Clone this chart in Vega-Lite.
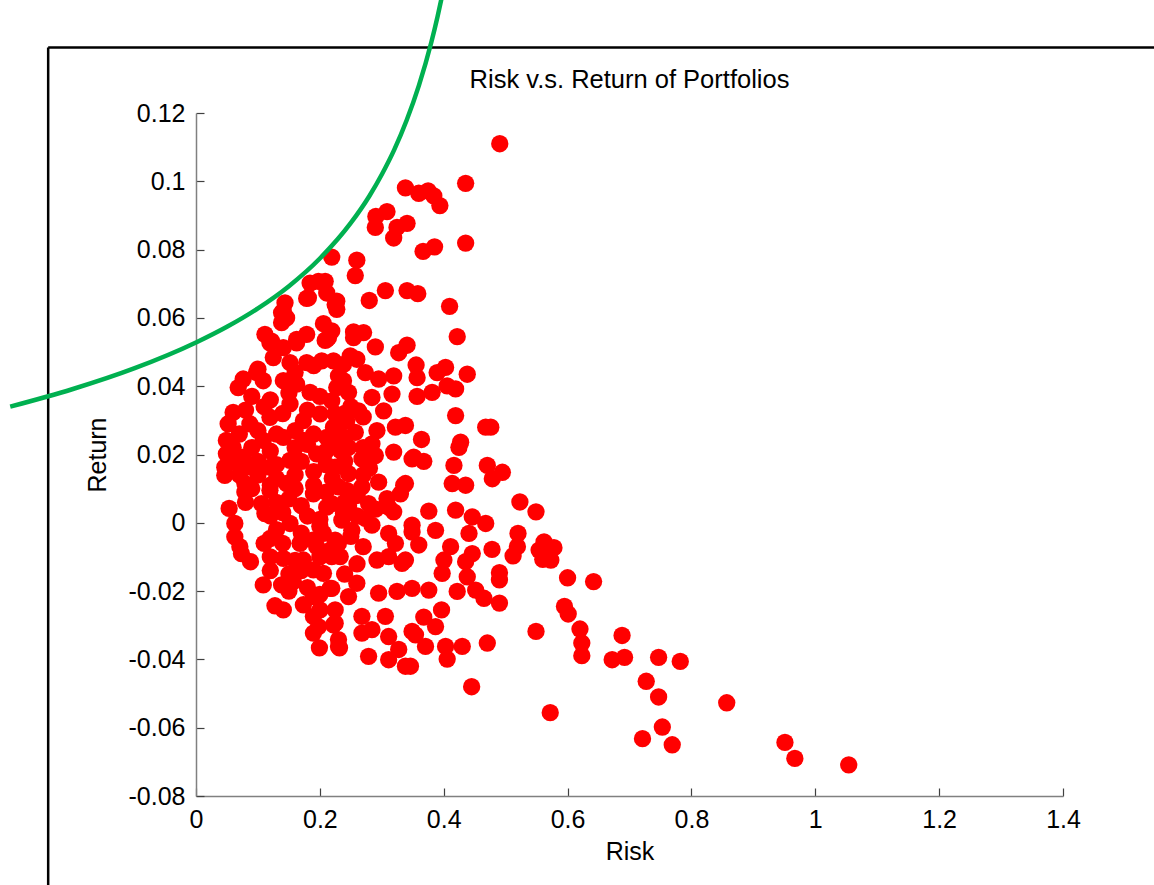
{
  "$schema": "https://vega.github.io/schema/vega-lite/v6.json",
  "width": 867,
  "height": 683,
  "autosize": {"type": "none"},
  "padding": {"left": 196, "top": 113, "right": 91, "bottom": 89},
  "background": "white",
  "config": {"view": {"stroke": null}, "font": "Liberation Sans"},
  "title": {"text": "Risk v.s. Return of Portfolios", "fontSize": 25.5, "fontWeight": "normal", "font": "Liberation Sans", "color": "black", "frame": "group", "anchor": "middle", "baseline": "alphabetic", "offset": -126},
  "datasets": {
    "frame": [
      {"x1": -0.2387, "x2": 1.7, "y1": 0.1392, "y2": 0.1392},
      {"x1": -0.2387, "x2": -0.2387, "y1": 0.1392, "y2": -0.13}
    ],
    "frontier": [
      {"risk": -0.30, "ret": 0.0340},
      {"risk": -0.20, "ret": 0.0391},
      {"risk": -0.10, "ret": 0.0452},
      {"risk": 0.00, "ret": 0.0528},
      {"risk": 0.05, "ret": 0.0574},
      {"risk": 0.10, "ret": 0.0628},
      {"risk": 0.15, "ret": 0.0693},
      {"risk": 0.20, "ret": 0.0774},
      {"risk": 0.25, "ret": 0.0878},
      {"risk": 0.28, "ret": 0.0957},
      {"risk": 0.30, "ret": 0.1020},
      {"risk": 0.32, "ret": 0.1092},
      {"risk": 0.34, "ret": 0.1178},
      {"risk": 0.36, "ret": 0.1281},
      {"risk": 0.38, "ret": 0.1407},
      {"risk": 0.39, "ret": 0.1482},
      {"risk": 0.397, "ret": 0.1540}
    ],
    "portfolios": [
      {"risk": 0.523, "ret": 0.0061}, {"risk": 0.549, "ret": 0.0032}, {"risk": 0.520, "ret": -0.0031}, {"risk": 0.519, "ret": -0.0070},
      {"risk": 0.512, "ret": -0.0097}, {"risk": 0.562, "ret": -0.0056}, {"risk": 0.578, "ret": -0.0073}, {"risk": 0.554, "ret": -0.0080},
      {"risk": 0.560, "ret": -0.0107}, {"risk": 0.573, "ret": -0.0109}, {"risk": 0.478, "ret": -0.0078}, {"risk": 0.490, "ret": -0.0146},
      {"risk": 0.490, "ret": -0.0167}, {"risk": 0.490, "ret": -0.0235}, {"risk": 0.600, "ret": -0.0161}, {"risk": 0.642, "ret": -0.0172},
      {"risk": 0.595, "ret": -0.0245}, {"risk": 0.601, "ret": -0.0267}, {"risk": 0.549, "ret": -0.0318}, {"risk": 0.620, "ret": -0.0311},
      {"risk": 0.623, "ret": -0.0352}, {"risk": 0.623, "ret": -0.0389}, {"risk": 0.688, "ret": -0.0330}, {"risk": 0.672, "ret": -0.0401},
      {"risk": 0.692, "ret": -0.0394}, {"risk": 0.747, "ret": -0.0394}, {"risk": 0.782, "ret": -0.0406}, {"risk": 0.727, "ret": -0.0464},
      {"risk": 0.747, "ret": -0.0510}, {"risk": 0.857, "ret": -0.0527}, {"risk": 0.572, "ret": -0.0556}, {"risk": 0.753, "ret": -0.0598},
      {"risk": 0.721, "ret": -0.0632}, {"risk": 0.769, "ret": -0.0650}, {"risk": 0.951, "ret": -0.0643}, {"risk": 0.967, "ret": -0.0690},
      {"risk": 1.054, "ret": -0.0709},
      {"risk": 0.4905, "ret": 0.1110}, {"risk": 0.4354, "ret": 0.0994}, {"risk": 0.3382, "ret": 0.0981}, {"risk": 0.3597, "ret": 0.0965},
      {"risk": 0.3748, "ret": 0.0972}, {"risk": 0.3840, "ret": 0.0957}, {"risk": 0.3938, "ret": 0.0929}, {"risk": 0.3084, "ret": 0.0911},
      {"risk": 0.2905, "ret": 0.0897}, {"risk": 0.2896, "ret": 0.0865}, {"risk": 0.3408, "ret": 0.0877}, {"risk": 0.3246, "ret": 0.0865},
      {"risk": 0.3192, "ret": 0.0834}, {"risk": 0.3667, "ret": 0.0795}, {"risk": 0.3852, "ret": 0.0808}, {"risk": 0.4354, "ret": 0.0819},
      {"risk": 0.2192, "ret": 0.0778}, {"risk": 0.2597, "ret": 0.0769}, {"risk": 0.2572, "ret": 0.0724}, {"risk": 0.3058, "ret": 0.0680},
      {"risk": 0.2798, "ret": 0.0651}, {"risk": 0.3408, "ret": 0.0680}, {"risk": 0.3581, "ret": 0.0671}, {"risk": 0.4095, "ret": 0.0634},
      {"risk": 0.4218, "ret": 0.0545}, {"risk": 0.1977, "ret": 0.0707}, {"risk": 0.2086, "ret": 0.0707}, {"risk": 0.1842, "ret": 0.0702},
      {"risk": 0.1787, "ret": 0.0657}, {"risk": 0.2111, "ret": 0.0673}, {"risk": 0.2273, "ret": 0.0649}, {"risk": 0.2273, "ret": 0.0625},
      {"risk": 0.1437, "ret": 0.0644}, {"risk": 0.1382, "ret": 0.0615}, {"risk": 0.1463, "ret": 0.0600}, {"risk": 0.1382, "ret": 0.0586},
      {"risk": 0.2058, "ret": 0.0583}, {"risk": 0.2192, "ret": 0.0562}, {"risk": 0.2086, "ret": 0.0534}, {"risk": 0.1113, "ret": 0.0552},
      {"risk": 0.1220, "ret": 0.0532}, {"risk": 0.1625, "ret": 0.0537}, {"risk": 0.1787, "ret": 0.0552}, {"risk": 0.2544, "ret": 0.0559},
      {"risk": 0.2706, "ret": 0.0557}, {"risk": 0.2896, "ret": 0.0515}, {"risk": 0.3408, "ret": 0.0520}, {"risk": 0.3273, "ret": 0.0498},
      {"risk": 0.1410, "ret": 0.0513}, {"risk": 0.2491, "ret": 0.0489},
      {"risk": 0.3554, "ret": 0.0462}, {"risk": 0.4030, "ret": 0.0455}, {"risk": 0.3894, "ret": 0.0440}, {"risk": 0.4380, "ret": 0.0435},
      {"risk": 0.3570, "ret": 0.0425}, {"risk": 0.3192, "ret": 0.0430}, {"risk": 0.4056, "ret": 0.0401}, {"risk": 0.4192, "ret": 0.0392},
      {"risk": 0.3813, "ret": 0.0382}, {"risk": 0.3570, "ret": 0.0370}, {"risk": 0.3165, "ret": 0.0377}, {"risk": 0.4192, "ret": 0.0314},
      {"risk": 0.4678, "ret": 0.0280}, {"risk": 0.4760, "ret": 0.0280}, {"risk": 0.3382, "ret": 0.0285}, {"risk": 0.3641, "ret": 0.0244},
      {"risk": 0.4273, "ret": 0.0236}, {"risk": 0.4246, "ret": 0.0221}, {"risk": 0.3678, "ret": 0.0180}, {"risk": 0.3489, "ret": 0.0187},
      {"risk": 0.4165, "ret": 0.0168}, {"risk": 0.4704, "ret": 0.0168}, {"risk": 0.4947, "ret": 0.0148}, {"risk": 0.4785, "ret": 0.0129},
      {"risk": 0.4137, "ret": 0.0115}, {"risk": 0.4354, "ret": 0.0110}, {"risk": 0.3382, "ret": 0.0115}, {"risk": 0.3301, "ret": 0.0085},
      {"risk": 0.4192, "ret": 0.0037}, {"risk": 0.3759, "ret": 0.0034}, {"risk": 0.3111, "ret": 0.0046}, {"risk": 0.4461, "ret": 0.0017},
      {"risk": 0.4678, "ret": -0.0002},
      {"risk": 0.3868, "ret": -0.0022}, {"risk": 0.3489, "ret": -0.0027}, {"risk": 0.4408, "ret": -0.0031}, {"risk": 0.4111, "ret": -0.0070},
      {"risk": 0.3597, "ret": -0.0065}, {"risk": 0.4461, "ret": -0.0090}, {"risk": 0.4354, "ret": -0.0114}, {"risk": 0.4003, "ret": -0.0109},
      {"risk": 0.3975, "ret": -0.0148}, {"risk": 0.4380, "ret": -0.0158}, {"risk": 0.4218, "ret": -0.0201}, {"risk": 0.4516, "ret": -0.0197},
      {"risk": 0.4650, "ret": -0.0221}, {"risk": 0.3759, "ret": -0.0197}, {"risk": 0.3489, "ret": -0.0192}, {"risk": 0.3246, "ret": -0.0201},
      {"risk": 0.2949, "ret": -0.0206}, {"risk": 0.2597, "ret": -0.0177}, {"risk": 0.3965, "ret": -0.0255}, {"risk": 0.3678, "ret": -0.0276},
      {"risk": 0.3868, "ret": -0.0304}, {"risk": 0.3058, "ret": -0.0274}, {"risk": 0.3489, "ret": -0.0318}, {"risk": 0.4299, "ret": -0.0362},
      {"risk": 0.4704, "ret": -0.0352}, {"risk": 0.4030, "ret": -0.0362}, {"risk": 0.4056, "ret": -0.0399}, {"risk": 0.3463, "ret": -0.0420},
      {"risk": 0.2787, "ret": -0.0391}, {"risk": 0.3111, "ret": -0.0401}, {"risk": 0.4451, "ret": -0.0480}, {"risk": 0.2922, "ret": -0.0109},
      {"risk": 0.3327, "ret": -0.0119}, {"risk": 0.2679, "ret": -0.0323}, {"risk": 0.2301, "ret": -0.0362},
      {"risk": 0.1410, "ret": 0.0620}, {"risk": 0.1815, "ret": 0.0659}, {"risk": 0.2247, "ret": 0.0639}, {"risk": 0.2111, "ret": 0.0537},
      {"risk": 0.1625, "ret": 0.0527}, {"risk": 0.1194, "ret": 0.0527}, {"risk": 0.1248, "ret": 0.0484}, {"risk": 0.1518, "ret": 0.0469},
      {"risk": 0.1787, "ret": 0.0469}, {"risk": 0.2030, "ret": 0.0474}, {"risk": 0.2220, "ret": 0.0474}, {"risk": 0.0762, "ret": 0.0421},
      {"risk": 0.0977, "ret": 0.0440}, {"risk": 0.0681, "ret": 0.0396}, {"risk": 0.1086, "ret": 0.0416}, {"risk": 0.1410, "ret": 0.0416},
      {"risk": 0.1625, "ret": 0.0406}, {"risk": 0.1842, "ret": 0.0382}, {"risk": 0.2273, "ret": 0.0396}, {"risk": 0.0600, "ret": 0.0323},
      {"risk": 0.0519, "ret": 0.0290}, {"risk": 0.0870, "ret": 0.0290}, {"risk": 0.1194, "ret": 0.0309}, {"risk": 0.1518, "ret": 0.0348},
      {"risk": 0.1734, "ret": 0.0299}, {"risk": 0.2004, "ret": 0.0319}, {"risk": 0.2220, "ret": 0.0280}, {"risk": 0.0491, "ret": 0.0241},
      {"risk": 0.0491, "ret": 0.0202}, {"risk": 0.0465, "ret": 0.0163}, {"risk": 0.0762, "ret": 0.0192}, {"risk": 0.1086, "ret": 0.0241},
      {"risk": 0.0815, "ret": 0.0163}, {"risk": 0.1410, "ret": 0.0250}, {"risk": 0.1734, "ret": 0.0241}, {"risk": 0.2111, "ret": 0.0250},
      {"risk": 0.2329, "ret": 0.0212}, {"risk": 0.1949, "ret": 0.0202}, {"risk": 0.1518, "ret": 0.0183}, {"risk": 0.1194, "ret": 0.0163},
      {"risk": 0.2435, "ret": 0.0299}, {"risk": 0.2382, "ret": 0.0416}, {"risk": 0.2382, "ret": 0.0464},
      {"risk": 0.2139, "ret": 0.0542}, {"risk": 0.2544, "ret": 0.0542}, {"risk": 0.2597, "ret": 0.0479}, {"risk": 0.2734, "ret": 0.0440},
      {"risk": 0.2949, "ret": 0.0421}, {"risk": 0.2301, "ret": 0.0430}, {"risk": 0.2463, "ret": 0.0382}, {"risk": 0.2841, "ret": 0.0367},
      {"risk": 0.2192, "ret": 0.0357}, {"risk": 0.3030, "ret": 0.0328}, {"risk": 0.2625, "ret": 0.0328}, {"risk": 0.2247, "ret": 0.0319},
      {"risk": 0.2301, "ret": 0.0270}, {"risk": 0.2572, "ret": 0.0265}, {"risk": 0.2922, "ret": 0.0270}, {"risk": 0.3220, "ret": 0.0280},
      {"risk": 0.2841, "ret": 0.0231}, {"risk": 0.2463, "ret": 0.0221}, {"risk": 0.2192, "ret": 0.0231}, {"risk": 0.3192, "ret": 0.0207},
      {"risk": 0.3516, "ret": 0.0192}, {"risk": 0.2896, "ret": 0.0197}, {"risk": 0.2679, "ret": 0.0187}, {"risk": 0.2247, "ret": 0.0163},
      {"risk": 0.2463, "ret": 0.0144}, {"risk": 0.2949, "ret": 0.0119}, {"risk": 0.3354, "ret": 0.0110}, {"risk": 0.2679, "ret": 0.0105},
      {"risk": 0.2301, "ret": 0.0105}, {"risk": 0.3084, "ret": 0.0071}, {"risk": 0.2787, "ret": 0.0056}, {"risk": 0.2463, "ret": 0.0051},
      {"risk": 0.2192, "ret": 0.0056}, {"risk": 0.3192, "ret": 0.0032}, {"risk": 0.2734, "ret": 0.0013}, {"risk": 0.3489, "ret": -0.0007},
      {"risk": 0.2354, "ret": 0.0008},
      {"risk": 0.2516, "ret": -0.0022}, {"risk": 0.2247, "ret": -0.0051}, {"risk": 0.2192, "ret": -0.0099}, {"risk": 0.2841, "ret": -0.0007},
      {"risk": 0.3111, "ret": -0.0031}, {"risk": 0.3220, "ret": -0.0060}, {"risk": 0.3382, "ret": -0.0109}, {"risk": 0.3111, "ret": -0.0099},
      {"risk": 0.2192, "ret": -0.0192}, {"risk": 0.2463, "ret": -0.0216}, {"risk": 0.2247, "ret": -0.0255}, {"risk": 0.2679, "ret": -0.0274},
      {"risk": 0.2247, "ret": -0.0294}, {"risk": 0.2841, "ret": -0.0313}, {"risk": 0.2301, "ret": -0.0342}, {"risk": 0.3111, "ret": -0.0333},
      {"risk": 0.3273, "ret": -0.0371}, {"risk": 0.3544, "ret": -0.0328}, {"risk": 0.3706, "ret": -0.0362}, {"risk": 0.3382, "ret": -0.0420},
      {"risk": 0.0465, "ret": 0.0139}, {"risk": 0.0789, "ret": 0.0115}, {"risk": 0.0789, "ret": 0.0090}, {"risk": 0.0535, "ret": 0.0042},
      {"risk": 0.0627, "ret": -0.0002}, {"risk": 0.0627, "ret": -0.0041}, {"risk": 0.0708, "ret": -0.0070}, {"risk": 0.0734, "ret": -0.0090},
      {"risk": 0.0880, "ret": -0.0114}, {"risk": 0.1086, "ret": -0.0182}, {"risk": 0.1382, "ret": -0.0182}, {"risk": 0.1572, "ret": -0.0172},
      {"risk": 0.1275, "ret": -0.0243}, {"risk": 0.1410, "ret": -0.0255}, {"risk": 0.1734, "ret": -0.0240}, {"risk": 0.1896, "ret": -0.0216},
      {"risk": 0.2166, "ret": -0.0192}, {"risk": 0.1896, "ret": -0.0274}, {"risk": 0.2004, "ret": -0.0255}, {"risk": 0.1896, "ret": -0.0323},
      {"risk": 0.1977, "ret": -0.0304}, {"risk": 0.2220, "ret": -0.0299}, {"risk": 0.2317, "ret": -0.0366}, {"risk": 0.1410, "ret": -0.0104},
      {"risk": 0.1734, "ret": -0.0109}, {"risk": 0.1194, "ret": -0.0046}, {"risk": 0.1058, "ret": 0.0056}, {"risk": 0.1113, "ret": 0.0027},
      {"risk": 0.1896, "ret": -0.0138}, {"risk": 0.2058, "ret": -0.0148}, {"risk": 0.2329, "ret": -0.0099}, {"risk": 0.2382, "ret": 0.0027},
      {"risk": 0.2435, "ret": 0.0095}, {"risk": 0.2111, "ret": 0.0046}, {"risk": 0.1518, "ret": -0.0002}, {"risk": 0.1680, "ret": -0.0060},
      {"risk": 0.1949, "ret": -0.0070}, {"risk": 0.2058, "ret": -0.0031}, {"risk": 0.2166, "ret": -0.0080}, {"risk": 0.1463, "ret": 0.0115},
      {"risk": 0.1194, "ret": 0.0095}, {"risk": 0.1896, "ret": 0.0085}, {"risk": 0.1993, "ret": -0.0366},
      {"risk": 0.10, "ret": 0.045}, {"risk": 0.16, "ret": 0.044}, {"risk": 0.19, "ret": 0.046},
      {"risk": 0.09, "ret": 0.037}, {"risk": 0.12, "ret": 0.036}, {"risk": 0.15, "ret": 0.038}, {"risk": 0.20, "ret": 0.037}, {"risk": 0.25, "ret": 0.034},
      {"risk": 0.08, "ret": 0.033}, {"risk": 0.11, "ret": 0.034}, {"risk": 0.14, "ret": 0.032}, {"risk": 0.18, "ret": 0.033}, {"risk": 0.24, "ret": 0.032}, {"risk": 0.27, "ret": 0.031},
      {"risk": 0.07, "ret": 0.026}, {"risk": 0.10, "ret": 0.027}, {"risk": 0.13, "ret": 0.026}, {"risk": 0.16, "ret": 0.027}, {"risk": 0.19, "ret": 0.026}, {"risk": 0.24, "ret": 0.025},
      {"risk": 0.06, "ret": 0.022}, {"risk": 0.09, "ret": 0.022}, {"risk": 0.12, "ret": 0.021}, {"risk": 0.16, "ret": 0.022}, {"risk": 0.18, "ret": 0.023}, {"risk": 0.21, "ret": 0.021}, {"risk": 0.27, "ret": 0.022},
      {"risk": 0.06, "ret": 0.018}, {"risk": 0.10, "ret": 0.018}, {"risk": 0.13, "ret": 0.017}, {"risk": 0.17, "ret": 0.018}, {"risk": 0.21, "ret": 0.017}, {"risk": 0.24, "ret": 0.018}, {"risk": 0.28, "ret": 0.016},
      {"risk": 0.07, "ret": 0.014}, {"risk": 0.10, "ret": 0.014}, {"risk": 0.13, "ret": 0.013}, {"risk": 0.16, "ret": 0.014}, {"risk": 0.19, "ret": 0.015}, {"risk": 0.22, "ret": 0.013}, {"risk": 0.27, "ret": 0.014},
      {"risk": 0.09, "ret": 0.010}, {"risk": 0.12, "ret": 0.011}, {"risk": 0.16, "ret": 0.010}, {"risk": 0.19, "ret": 0.011}, {"risk": 0.21, "ret": 0.009}, {"risk": 0.26, "ret": 0.008},
      {"risk": 0.08, "ret": 0.006}, {"risk": 0.13, "ret": 0.006}, {"risk": 0.15, "ret": 0.007}, {"risk": 0.17, "ret": 0.005}, {"risk": 0.24, "ret": 0.006}, {"risk": 0.29, "ret": 0.004},
      {"risk": 0.12, "ret": 0.002}, {"risk": 0.14, "ret": 0.003}, {"risk": 0.18, "ret": 0.002}, {"risk": 0.20, "ret": 0.001}, {"risk": 0.26, "ret": 0.002},
      {"risk": 0.13, "ret": -0.002}, {"risk": 0.17, "ret": -0.003}, {"risk": 0.20, "ret": -0.001}, {"risk": 0.25, "ret": -0.004},
      {"risk": 0.11, "ret": -0.006}, {"risk": 0.14, "ret": -0.006}, {"risk": 0.19, "ret": -0.005}, {"risk": 0.23, "ret": -0.006}, {"risk": 0.27, "ret": -0.007},
      {"risk": 0.12, "ret": -0.010}, {"risk": 0.16, "ret": -0.011}, {"risk": 0.20, "ret": -0.010}, {"risk": 0.26, "ret": -0.012},
      {"risk": 0.12, "ret": -0.014}, {"risk": 0.15, "ret": -0.015}, {"risk": 0.17, "ret": -0.014}, {"risk": 0.24, "ret": -0.015},
      {"risk": 0.15, "ret": -0.020}, {"risk": 0.18, "ret": -0.019}, {"risk": 0.20, "ret": -0.021}
    ]
  },
  "layer": [
    {
      "data": {"name": "portfolios"},
      "mark": {"type": "circle", "size": 300, "color": "#ff0000", "opacity": 1, "clip": false},
      "encoding": {
        "x": {
          "field": "risk", "type": "quantitative",
          "scale": {"domain": [0, 1.4], "nice": false, "zero": false},
          "axis": {
            "title": "Risk", "values": [0, 0.2, 0.4, 0.6, 0.8, 1, 1.2, 1.4],
            "labelExpr": "datum.value < 0 ? '-' + format(-datum.value, '~g') : format(datum.value, '~g')",
            "grid": false, "domainColor": "#808080", "domainWidth": 1.5, "tickColor": "#404040", "tickWidth": 1.2,
            "tickSize": -8, "labelPadding": 19, "labelFontSize": 25, "labelFont": "Liberation Sans", "labelColor": "black",
            "labelFlush": false, "labelOverlap": false,
            "titleFontSize": 25, "titleFont": "Liberation Sans", "titleFontWeight": "normal", "titleColor": "black",
            "titleBaseline": "alphabetic", "titleY": 63
          }
        },
        "y": {
          "field": "ret", "type": "quantitative",
          "scale": {"domain": [-0.08, 0.12], "nice": false, "zero": false},
          "axis": {
            "title": "Return", "values": [-0.08, -0.06, -0.04, -0.02, 0, 0.02, 0.04, 0.06, 0.08, 0.1, 0.12],
            "labelExpr": "datum.value < 0 ? '-' + format(-datum.value, '~g') : format(datum.value, '~g')",
            "grid": false, "domainColor": "#808080", "domainWidth": 1.5, "tickColor": "#404040", "tickWidth": 1.2,
            "tickSize": -8, "labelPadding": 19, "labelFontSize": 25, "labelFont": "Liberation Sans", "labelColor": "black",
            "labelFlush": false, "labelOverlap": false,
            "titleFontSize": 25, "titleFont": "Liberation Sans", "titleFontWeight": "normal", "titleColor": "black",
            "titleBaseline": "alphabetic", "titleX": -91
          }
        }
      }
    },
    {
      "data": {"name": "frame"},
      "mark": {"type": "rule", "clip": false, "color": "black", "strokeWidth": 2.5},
      "encoding": {
        "x": {"field": "x1", "type": "quantitative", "scale": {"domain": [0, 1.4], "nice": false, "zero": false}, "axis": {"title": "Risk"}},
        "x2": {"field": "x2"},
        "y": {"field": "y1", "type": "quantitative", "scale": {"domain": [-0.08, 0.12], "nice": false, "zero": false}, "axis": {"title": "Return"}},
        "y2": {"field": "y2"}
      }
    },
    {
      "data": {"name": "frontier"},
      "mark": {"type": "line", "color": "#00b050", "strokeWidth": 4.5, "clip": false, "interpolate": "monotone"},
      "encoding": {
        "x": {"field": "risk", "type": "quantitative", "scale": {"domain": [0, 1.4], "nice": false, "zero": false}, "axis": {"title": "Risk"}},
        "y": {"field": "ret", "type": "quantitative", "scale": {"domain": [-0.08, 0.12], "nice": false, "zero": false}, "axis": {"title": "Return"}}
      }
    }
  ]
}
